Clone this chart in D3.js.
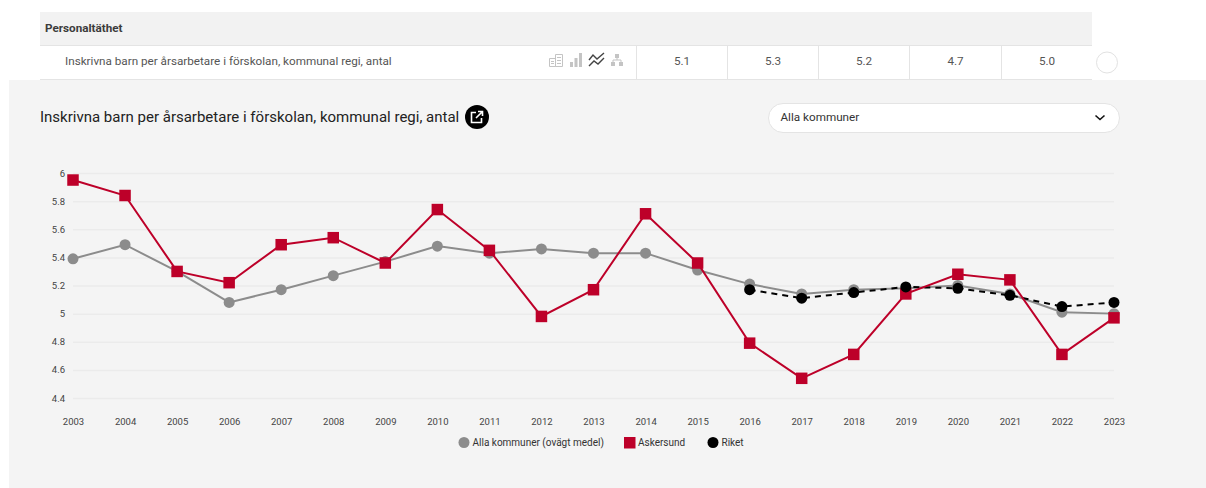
<!DOCTYPE html>
<html lang="sv">
<head>
<meta charset="utf-8">
<title>Personaltäthet</title>
<script src="https://cdn.jsdelivr.net/npm/d3@7"></script>
<style>
  html, body { margin: 0; padding: 0; background: #fff; overflow: hidden; }
  svg { display: block; }
  text { font-family: Roboto, sans-serif; }
</style>
</head>
<body>
<div id="chart"></div>
<script>
const years = ['2003','2004','2005','2006','2007','2008','2009','2010','2011','2012','2013','2014','2015','2016','2017','2018','2019','2020','2021','2022','2023'];
const allaKommuner = [5.39,5.49,5.30,5.08,5.17,5.27,5.37,5.48,5.43,5.46,5.43,5.43,5.31,5.21,5.14,5.17,5.18,5.20,5.14,5.01,5.00];
const askersund = [5.95,5.84,5.30,5.22,5.49,5.54,5.36,5.74,5.45,4.98,5.17,5.71,5.36,4.79,4.54,4.71,5.14,5.28,5.24,4.71,4.97];
const riket = [null,null,null,null,null,null,null,null,null,null,null,null,null,5.17,5.11,5.15,5.19,5.18,5.13,5.05,5.08];
const yTicks = [4.4,4.6,4.8,5,5.2,5.4,5.6,5.8,6];
const tableValues = ['5.1','5.3','5.2','4.7','5.0'];
const tableEdges = [636,727,818,909,1001,1092];
const titel = 'Inskrivna barn per årsarbetare i förskolan, kommunal regi, antal';

const bredd = 1206, hojd = 488;
const svg = d3.select('#chart').append('svg').attr('width', bredd).attr('height', hojd);

// Tabellen överst
svg.append('rect').attr('x', 40).attr('y', 12).attr('width', 1052).attr('height', 33).attr('fill', '#f2f2f2');
svg.append('line').attr('x1', 40).attr('x2', 1092).attr('y1', 45.5).attr('y2', 45.5).attr('stroke', '#e4e4e4');
svg.append('line').attr('x1', 40).attr('x2', 1092).attr('y1', 79.5).attr('y2', 79.5).attr('stroke', '#e4e4e4');
svg.append('text').attr('x', 45).attr('y', 32).attr('font-size', 11.7).attr('font-weight', 700).attr('fill', '#3c3c3c').text('Personaltäthet');
svg.append('text').attr('x', 65).attr('y', 65).attr('font-size', 11.7).attr('fill', '#555').text(titel);

tableEdges.slice(0, 5).forEach((x, i) => {
  svg.append('line').attr('x1', x + 0.5).attr('x2', x + 0.5).attr('y1', 46).attr('y2', 79).attr('stroke', '#e4e4e4');
  svg.append('text').attr('x', (x + tableEdges[i + 1]) / 2 + 0.5).attr('y', 65).attr('text-anchor', 'middle')
     .attr('font-size', 11.7).attr('fill', '#555').text(tableValues[i]);
});
svg.append('circle').attr('cx', 1107).attr('cy', 62.5).attr('r', 10.5).attr('fill', '#fff').attr('stroke', '#e2e2e2');

// Små ikoner i raden
const ikoner = svg.append('g').attr('fill', '#c4c4c4');
ikoner.append('path').attr('fill', 'none').attr('stroke', '#c4c4c4').attr('d', 'M555.5 54.5h7v12h-7zM549.5 58.5h6v8h-6z');
ikoner.append('path').attr('d', 'M557 57h4v1h-4zM557 60h4v1h-4zM557 63h4v1h-4zM551 61h3v1h-3zM551 63h3v1h-3z');
ikoner.append('path').attr('d', 'M570 62h3v5h-3zM574.500 58h3v9h-3zM579 53h3v14h-3z');
ikoner.append('path').attr('fill', 'none').attr('stroke', '#444').attr('stroke-width', 1.4).attr('d', 'M589 60l4-5 4 4 7-6M589 66l5-5 4 3 6-6');
ikoner.append('path').attr('d', 'M615 54h4v4h-4zM611 62h4v4h-4zM619 62h4v4h-4z');
ikoner.append('path').attr('fill', 'none').attr('stroke', '#c4c4c4').attr('d', 'M617 58v2M613 62v-2h8v2');

// Panelen
svg.append('rect').attr('x', 9).attr('y', 80).attr('width', bredd - 9).attr('height', hojd - 80).attr('fill', '#f4f4f4');
svg.append('text').attr('x', 40).attr('y', 122).attr('font-size', 15).attr('fill', '#222').text(titel);

svg.append('circle').attr('cx', 477).attr('cy', 117).attr('r', 12).attr('fill', '#000');
svg.append('path').attr('fill', 'none').attr('stroke', '#fff').attr('stroke-width', 1.6)
   .attr('d', 'M476 112.500h-4.500v10h10v-4.500M476 118l6.500-6.500M478 111.500h4.500v4.500');

// Rullista
svg.append('rect').attr('x', 768.5).attr('y', 103.5).attr('width', 351).attr('height', 29).attr('rx', 14.5)
   .attr('fill', '#fff').attr('stroke', '#e4e4e4');
svg.append('text').attr('x', 780.5).attr('y', 121).attr('font-size', 11.7).attr('fill', '#333').text('Alla kommuner');
svg.append('path').attr('fill', 'none').attr('stroke', '#111').attr('stroke-width', 1.6).attr('d', 'M1095.500 115.500l4.500 4 4.500-4');

// Skalor
const x = d3.scalePoint().domain(years).range([73, 1114]);
const y = d3.scaleLinear().domain([4.4, 6]).range([398, 173]);

// Rutnät och axlar
const yAxis = svg.append('g').attr('transform', 'translate(73,0)')
  .call(d3.axisLeft(y).tickValues(yTicks).tickFormat(d3.format('~g')).tickSize(-1041).tickPadding(8));
yAxis.select('.domain').remove();
yAxis.selectAll('line').attr('stroke', '#ebebeb').attr('stroke-width', 1.5);
yAxis.selectAll('text').attr('font-size', 9.5).attr('fill', '#444').style('font-family', 'Roboto, sans-serif');

const xAxis = svg.append('g').attr('transform', 'translate(0,398)')
  .call(d3.axisBottom(x).tickSize(0).tickPadding(20));
xAxis.select('.domain').remove();
xAxis.selectAll('text').attr('font-size', 9.5).attr('fill', '#444').style('font-family', 'Roboto, sans-serif');

const linje = d3.line().defined(d => d != null).x((d, i) => x(years[i])).y(d => y(d));

// Serier, ritade i samma ordning som originalet
svg.append('path').attr('d', linje(allaKommuner)).attr('fill', 'none').attr('stroke', '#8c8c8c').attr('stroke-width', 2);
svg.selectAll('.alla').data(allaKommuner).enter().append('circle').attr('class', 'alla')
   .attr('cx', (d, i) => x(years[i])).attr('cy', d => y(d)).attr('r', 5.5).attr('fill', '#8c8c8c');

svg.append('path').attr('d', linje(riket)).attr('fill', 'none').attr('stroke', '#000').attr('stroke-width', 2).attr('stroke-dasharray', '6,5');

svg.append('path').attr('d', linje(askersund)).attr('fill', 'none').attr('stroke', '#bd0029').attr('stroke-width', 2);
svg.selectAll('.askersund').data(askersund).enter().append('rect').attr('class', 'askersund')
   .attr('x', (d, i) => x(years[i]) - 5.75).attr('y', d => y(d) - 5.75).attr('width', 11.5).attr('height', 11.5).attr('fill', '#bd0029');

svg.selectAll('.riket').data(riket.map((v, i) => ({ v, i })).filter(d => d.v != null)).enter().append('circle').attr('class', 'riket')
   .attr('cx', d => x(years[d.i])).attr('cy', d => y(d.v)).attr('r', 5.5).attr('fill', '#000');

// Förklaring
const legend = svg.append('g').attr('font-size', 10).attr('fill', '#333');
legend.append('circle').attr('cx', 464).attr('cy', 442.5).attr('r', 5.5).attr('fill', '#8c8c8c');
legend.append('text').attr('x', 472.5).attr('y', 446).text('Alla kommuner (ovägt medel)');
legend.append('rect').attr('x', 624).attr('y', 437).attr('width', 11.5).attr('height', 11.5).attr('fill', '#bd0029');
legend.append('text').attr('x', 638).attr('y', 446).text('Askersund');
legend.append('circle').attr('cx', 713).attr('cy', 442.5).attr('r', 5.5).attr('fill', '#000');
legend.append('text').attr('x', 721.5).attr('y', 446).text('Riket');
</script>
</body>
</html>
